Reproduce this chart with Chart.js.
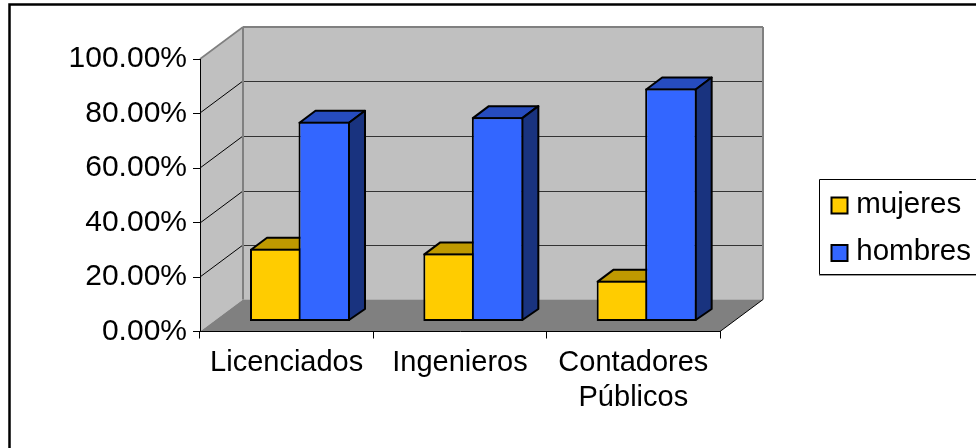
<!DOCTYPE html>
<html><head><meta charset="utf-8">
<style>html,body{margin:0;padding:0;background:#fff;overflow:hidden}canvas{display:block}</style>
<script src="https://cdn.jsdelivr.net/npm/chart.js@4"></script></head>
<body><canvas id="c" width="976" height="448"></canvas>
<script>
const categories = ['Licenciados', 'Ingenieros', ['Contadores', 'Públicos']];
const mujeres = [26.7, 25, 15];
const hombres = [73.3, 75, 85.5];
const yTicks = [0, 20, 40, 60, 80, 100];

const DX = 43, DY = -32;         // depth of the 3D box
const BDX = 16, BDY = -12;       // depth of a bar
const SX = 14.83, SY = -10;      // shift of bars inside the box
const OVERLAP = -3;              // the second series sits on the first one's edge
const GRAY = '#808080';

function poly(ctx, pts, fill, stroke, lw) {
  ctx.beginPath();
  pts.forEach((p, i) => i ? ctx.lineTo(p[0], p[1]) : ctx.moveTo(p[0], p[1]));
  ctx.closePath();
  if (fill) { ctx.fillStyle = fill; ctx.fill(); }
  if (stroke) { ctx.strokeStyle = stroke; ctx.lineWidth = lw; ctx.lineJoin = 'round'; ctx.stroke(); }
}
function seg(ctx, x1, y1, x2, y2, c, lw) {
  ctx.beginPath(); ctx.moveTo(x1, y1); ctx.lineTo(x2, y2);
  ctx.strokeStyle = c; ctx.lineWidth = lw; ctx.stroke();
}

const box3d = {
  id: 'box3d',
  beforeLayout(chart) {
    const leg = chart.legend;
    if (!leg._fixedWidth) {
      const fit = leg.fit;
      leg.fit = function () { fit.call(this); this.width = 256; };
      leg._fixedWidth = true;
    }
  },
  afterLayout(chart) {
    chart.legend.left = 814;
    chart.legend.right = 976;
    chart.legend.top = 173;
  },
  beforeDraw(chart) {
    const ctx = chart.ctx, a = chart.chartArea, y = chart.scales.y;
    const L = a.left, R = a.right, T = y.getPixelForValue(100), B = y.getPixelForValue(0);
    ctx.save();
    ctx.fillStyle = '#fff'; ctx.fillRect(0, 0, chart.width, chart.height);
    // frame
    ctx.strokeStyle = '#000'; ctx.lineWidth = 2.5;
    ctx.beginPath(); ctx.moveTo(9.5, 448); ctx.lineTo(9.5, 4.5); ctx.lineTo(976, 4.5); ctx.stroke();
    // walls
    poly(ctx, [[L, T], [L + DX, T + DY], [L + DX, B + DY], [L, B]], '#C0C0C0');
    poly(ctx, [[L + DX, T + DY], [R + DX, T + DY], [R + DX, B + DY], [L + DX, B + DY]], '#C0C0C0');
    poly(ctx, [[L, B], [R, B], [R + DX, B + DY], [L + DX, B + DY]], GRAY);
    // grid
    yTicks.slice(1, -1).forEach(v => {
      const py = Math.round(y.getPixelForValue(v));
      seg(ctx, L, py, L + DX, py + DY, '#000', 1);
      seg(ctx, L + DX, py + DY + 0.5, R + DX, py + DY + 0.5, '#333', 1);
    });
    // wall edges
    seg(ctx, L, T, L + DX, T + DY, GRAY, 1.6);
    seg(ctx, L + DX, T + DY, R + DX, T + DY, GRAY, 2);
    seg(ctx, L + DX, T + DY, L + DX, B + DY, GRAY, 2);
    seg(ctx, R + DX, T + DY, R + DX, B + DY, GRAY, 2);
    seg(ctx, R, B, R + DX, B + DY, '#000', 1);
    ctx.restore();
  },
  beforeDatasetsDraw(chart) {
    const ctx = chart.ctx;
    ctx.save();
    ctx.translate(SX, SY);
    chart.data.datasets.forEach((ds, di) => {
      const nudge = di === 1 ? OVERLAP : 0;
      chart.getDatasetMeta(di).data.forEach(el => {
        const { x, y, base, width } = el.getProps(['x', 'y', 'base', 'width'], true);
        const l = x - width / 2 + nudge, r = x + width / 2 + nudge;
        const pad = 1;
        poly(ctx, [[l + pad, y + pad], [l + pad + BDX, y + pad + BDY], [r - pad + BDX, y + pad + BDY], [r - pad, y + pad]], ds.topColor, '#000', 2);
        poly(ctx, [[r - pad, y + pad], [r - pad + BDX, y + pad + BDY], [r - pad + BDX, base - pad + BDY + 1], [r - pad, base - pad]], ds.sideColor, '#000', 2);
      });
    });
  },
  beforeDatasetDraw(chart, args) {
    if (args.index === 1) return false;   // drawn later, on top of the first series
  },
  afterDatasetsDraw(chart) {
    const ctx = chart.ctx;
    ctx.translate(OVERLAP, 0);
    chart.getDatasetMeta(1).controller.draw();
    ctx.restore();
  },
  afterDraw(chart) {
    const ctx = chart.ctx;
    ctx.save();
    // legend frame
    ctx.strokeStyle = '#000'; ctx.lineWidth = 1;
    ctx.beginPath(); ctx.moveTo(976, 179.5); ctx.lineTo(819.5, 179.5); ctx.lineTo(819.5, 274.5); ctx.lineTo(976, 274.5); ctx.stroke();
    seg(ctx, 819, 275.5, 976, 275.5, '#999', 1);
    // legend swatches
    chart.data.datasets.forEach((ds, i) => {
      ctx.fillStyle = ds.backgroundColor; ctx.strokeStyle = '#000'; ctx.lineWidth = 2;
      const yy = 197.5 + i * 47.5;
      ctx.fillRect(831.5, yy, 16, 16); ctx.strokeRect(831.5, yy, 16, 16);
    });
    ctx.restore();
  }
};

const FONT = '"Liberation Sans", Arial, sans-serif';
new Chart(document.getElementById('c'), {
  type: 'bar',
  data: {
    labels: categories,
    datasets: [
      { label: 'mujeres', data: mujeres, backgroundColor: '#FFCC00', topColor: '#BF9900', sideColor: '#806600', borderColor: '#000', borderWidth: 2, borderSkipped: false, clip: false },
      { label: 'hombres', data: hombres, backgroundColor: '#3366FF', topColor: '#264CBF', sideColor: '#19337F', borderColor: '#000', borderWidth: 2, borderSkipped: false, clip: false }
    ]
  },
  plugins: [box3d],
  options: {
    responsive: false,
    animation: false,
    events: [],
    categoryPercentage: 103 / 173.33,
    barPercentage: 1,
    layout: { padding: { top: 59, left: 0, right: 0, bottom: 0 } },
    scales: {
      x: {
        afterFit(s) { s.height = 116.5; },
        grid: { offset: true, drawOnChartArea: false, drawTicks: true, tickLength: 7, tickColor: '#000', tickWidth: 1 },
        border: { display: true, color: '#000', width: 1 },
        ticks: { color: '#000', padding: 6.5, maxRotation: 0, autoSkip: false, font: { family: FONT, size: 29, lineHeight: 1.22 } }
      },
      y: {
        min: 0, max: 100,
        afterFit(s) { s.width = 200; },
        afterBuildTicks(s) { s.ticks = yTicks.map(v => ({ value: v })); },
        grid: { drawOnChartArea: false, drawTicks: true, tickLength: 7, tickColor: '#000', tickWidth: 1 },
        border: { display: true, color: '#000', width: 1 },
        ticks: { color: '#000', padding: 6, callback: v => v.toFixed(2) + '%', font: { family: FONT, size: 30 } }
      }
    },
    plugins: {
      title: { display: false },
      tooltip: { enabled: false },
      legend: {
        display: true, position: 'right', align: 'start',
        labels: {
          color: '#000', boxWidth: 10, padding: 17.5,
          font: { family: FONT, size: 29.5, lineHeight: 1 },
          generateLabels(chart) {
            return Chart.defaults.plugins.legend.labels.generateLabels(chart).map(it =>
              Object.assign(it, { fillStyle: 'rgba(0,0,0,0)', strokeStyle: 'rgba(0,0,0,0)', lineWidth: 0 }));
          }
        }
      }
    }
  }
});
</script></body></html>
